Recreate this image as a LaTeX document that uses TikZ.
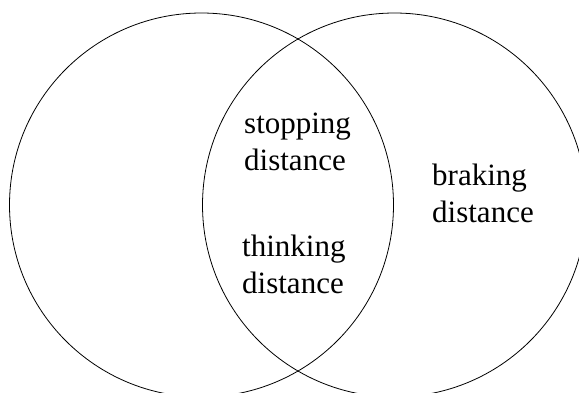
\documentclass[tikz,border=0pt]{standalone}
\usepackage{fontspec}
\setmainfont{Liberation Serif}
\usetikzlibrary{positioning}

\begin{document}
\begin{tikzpicture}[
  x=1pt, y=-1pt,
  set/.style={circle, draw=black, line width=0.8pt, minimum size=384pt, inner sep=0pt},
  lbl/.style={font=\fontsize{31}{37}\selectfont, align=left, inner sep=0pt, anchor=base west},
]
\useasboundingbox (0,0) rectangle (579,392);

\node[set] (thinkset) at (201.5,205) {};
\node[set] (brakeset) at (394.5,205) {};

% anchors sit on the baseline of the second line
\node[lbl] (stopping) at (244,170) {stopping\\distance};
\node[lbl] (thinking) at (242,293) {thinking\\distance};
\node[lbl] (braking) at (432,222) {braking\\distance};

\end{tikzpicture}
\end{document}
